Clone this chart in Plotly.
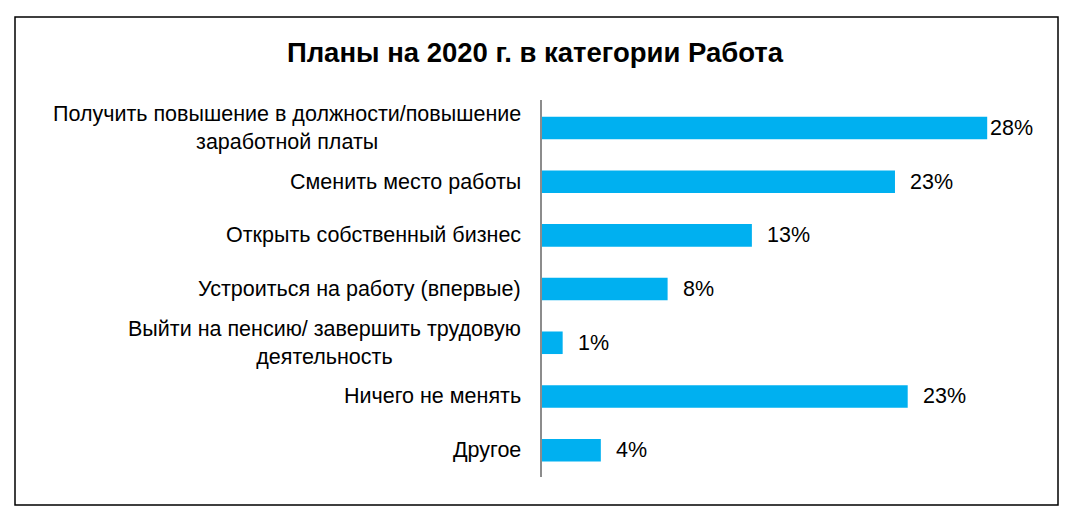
import plotly.graph_objects as go

# -----------------------------
# DATA
# -----------------------------
categories = [
    "Получить повышение в должности/повышение<br>заработной платы",
    "Сменить место работы",
    "Открыть собственный бизнес",
    "Устроиться на работу (впервые)",
    "Выйти на пенсию/ завершить трудовую<br>деятельность",
    "Ничего не менять",
    "Другое",
]
values = [28.0, 22.2, 13.2, 7.9, 1.3, 23.0, 3.7]
value_labels = ["28%", "23%", "13%", "8%", "1%", "23%", "4%"]

title_text = "Планы на 2020 г. в категории Работа"

# -----------------------------
# LAYOUT CONSTANTS (pixels, page coords; page body has an 8px margin)
# -----------------------------
OFF = 8
W, H = 1074 - OFF, 520 - OFF
plot_l, plot_r, plot_t, plot_b = 542 - OFF, 1019 - OFF, 100 - OFF, 477 - OFF
font_family = "Liberation Sans, Arial, sans-serif"
bar_color = "#00B0F0"

fig = go.Figure(go.Bar(
    x=values,
    y=categories,
    orientation="h",
    marker=dict(color=bar_color, line=dict(width=0)),
    hoverinfo="x+y",
))

# category labels, centered multi-line like the original
annotations = []
for cat in categories:
    annotations.append(dict(
        x=0, xref="paper", y=cat, yref="y",
        text=cat, showarrow=False,
        xanchor="right", yanchor="middle", align="center",
        xshift=-19,
        font=dict(family=font_family, size=21.5, color="#000000"),
    ))

# value labels
vmax = max(values)
for cat, v, lab in zip(categories, values, value_labels):
    annotations.append(dict(
        x=v, xref="x", y=cat, yref="y",
        text=lab, showarrow=False,
        xanchor="left", yanchor="middle",
        xshift=1 if v == vmax else 13,
        font=dict(family=font_family, size=21.5, color="#000000"),
    ))

# outer frame
pw = plot_r - plot_l
ph = plot_b - plot_t
frame = dict(
    type="rect", xref="paper", yref="paper",
    x0=(15 - OFF - plot_l) / pw, x1=(1058 - OFF - plot_l) / pw,
    y0=(plot_b - (505 - OFF)) / ph, y1=(plot_b - (17 - OFF)) / ph,
    line=dict(color="#000000", width=1.5),
    fillcolor="rgba(0,0,0,0)",
)

fig.update_layout(
    width=W,
    height=H,
    margin=dict(l=plot_l, r=W - plot_r, t=plot_t, b=H - plot_b),
    paper_bgcolor="white",
    plot_bgcolor="white",
    bargap=0.58,
    showlegend=False,
    title=dict(
        text="<b>" + title_text + "</b>",
        x=(535 - OFF) / W, xanchor="center",
        y=1 - (52 - OFF) / H, yanchor="middle",
        font=dict(family=font_family, size=27.5, color="#000000"),
    ),
    xaxis=dict(
        range=[0, 30],
        showgrid=False, zeroline=False, showline=False,
        showticklabels=False, ticks="",
        fixedrange=True,
    ),
    yaxis=dict(
        autorange="reversed",
        showgrid=False, zeroline=False,
        showline=True, linecolor="#8C8C8C", linewidth=2,
        showticklabels=False, ticks="",
        fixedrange=True,
    ),
    annotations=annotations,
    shapes=[frame],
)

fig.write_html("out.html", config={"displaylogo": False})
